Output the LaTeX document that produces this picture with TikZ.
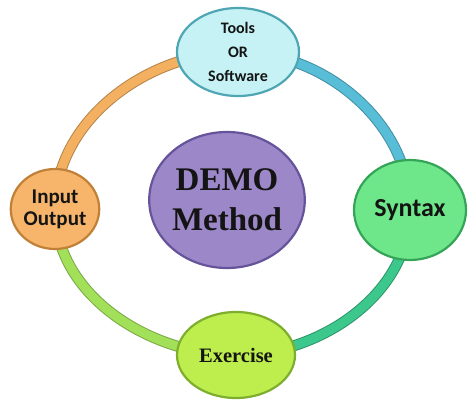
\documentclass[tikz,border=0pt]{standalone}
\usepackage{fontspec}
\setmainfont{Liberation Serif}
\newfontfamily\carl{Carlito}
\usetikzlibrary{backgrounds,shapes.geometric}
\definecolor{ringor}{HTML}{F2B060}
\definecolor{ringbl}{HTML}{58BED8}
\definecolor{ringtl}{HTML}{3CC88C}
\definecolor{ringgr}{HTML}{A2E05A}
\definecolor{toolsf}{HTML}{C6F2F6}
\definecolor{toolsd}{HTML}{4EA6B2}
\definecolor{inpf}{HTML}{F7B56C}
\definecolor{inpd}{HTML}{C08038}
\definecolor{synf}{HTML}{6EE68A}
\definecolor{synd}{HTML}{36A458}
\definecolor{exf}{HTML}{BEEE4E}
\definecolor{exd}{HTML}{7EAE2E}
\definecolor{demof}{HTML}{9C88C8}
\definecolor{demod}{HTML}{66549A}
\tikzset{
  bub/.style={ellipse, inner sep=0pt, line width=2.2pt, align=center, text=black!92},
  ringseg/.style={line width=9pt, looseness=0.95,
    preaction={draw=#1!75!black, line width=11pt}, draw=#1},
}
\begin{document}
\begin{tikzpicture}[x=1pt,y=-1pt]
\useasboundingbox (0,0) rectangle (470,403);
\node[bub, fill=toolsf, draw=toolsd, minimum width=122pt, minimum height=88pt, font=\carl\bfseries\fontsize{16}{24}\selectfont] (tools) at (238,52) {Tools\\OR\\Software};
\node[bub, fill=inpf, draw=inpd, minimum width=88pt, minimum height=80pt, font=\carl\bfseries\fontsize{21}{22}\selectfont] (inp) at (55,209) {Input\\Output};
\node[bub, fill=synf, draw=synd, minimum width=112pt, minimum height=100pt, font=\carl\bfseries\fontsize{26}{28}\selectfont] (syn) at (410,210) {Syntax};
\node[bub, fill=exf, draw=exd, minimum width=118pt, minimum height=86pt, font=\bfseries\fontsize{20.5}{24}\selectfont] (ex) at (236,355) {Exercise};
\node[bub, fill=demof, draw=demod, minimum width=140pt, minimum height=136pt, font=\bfseries\fontsize{33}{40}\selectfont] (demo) at (227,200) {DEMO\\Method};
\begin{scope}[on background layer]
\path[ringseg=ringor] (inp.center) to[out=90,in=180] (tools.center);
\path[ringseg=ringbl] (tools.center) to[out=0,in=90] (syn.center);
\path[ringseg=ringtl] (syn.center) to[out=-90,in=0] (ex.center);
\path[ringseg=ringgr] (ex.center) to[out=180,in=-90] (inp.center);
\end{scope}
\end{tikzpicture}
\end{document}
